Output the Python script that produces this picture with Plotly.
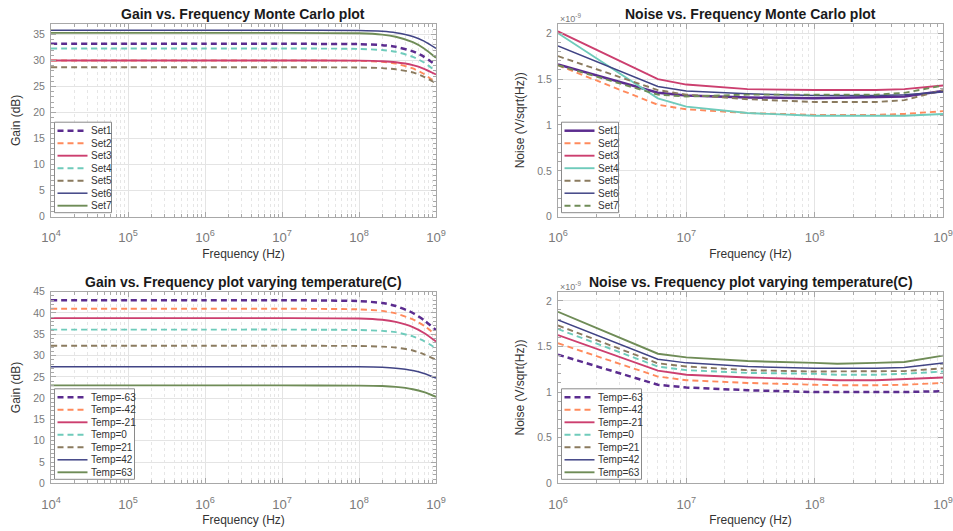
import plotly.graph_objects as go

# ---------------- data ----------------
set_names = ["Set1", "Set2", "Set3", "Set4", "Set5", "Set6", "Set7"]
temp_names = ["Temp=-63", "Temp=-42", "Temp=-21", "Temp=0", "Temp=21", "Temp=42", "Temp=63"]

# Gain vs frequency (Monte Carlo), dB
f_gain = [1e4, 1e5, 1e6, 1e7, 1e8, 2e8, 3e8, 5e8, 7e8, 1e9]
gain_set1 = [33.2, 33.2, 33.2, 33.2, 33.13, 32.94, 32.62, 31.75, 30.7, 29.1]
gain_set2 = [30.0, 30.0, 30.0, 30.0, 29.93, 29.72, 29.39, 28.46, 27.4, 25.7]
gain_set3 = [30.0, 30.0, 30.0, 30.0, 29.96, 29.85, 29.66, 29.1, 28.4, 27.3]
gain_set4 = [32.3, 32.3, 32.3, 32.3, 32.22, 32.0, 31.67, 30.7, 29.6, 27.9]
gain_set5 = [28.7, 28.7, 28.7, 28.7, 28.65, 28.53, 28.3, 27.7, 26.85, 25.6]
gain_set6 = [35.8, 35.8, 35.8, 35.8, 35.75, 35.59, 35.33, 34.6, 33.7, 32.3]
gain_set7 = [35.3, 35.3, 35.3, 35.3, 35.21, 34.96, 34.56, 33.5, 32.3, 30.5]

# Noise vs frequency (Monte Carlo), x1e-9 V/sqrt(Hz)
f_noise_mc = [1e6, 6e6, 1e7, 3e7, 1e8, 3e8, 5e8, 1e9]
noise_set1 = [1.66, 1.35, 1.32, 1.30, 1.29, 1.30, 1.31, 1.37]
noise_set2 = [1.65, 1.22, 1.17, 1.13, 1.11, 1.11, 1.12, 1.15]
noise_set3 = [2.02, 1.50, 1.44, 1.39, 1.38, 1.38, 1.39, 1.43]
noise_set4 = [2.00, 1.29, 1.20, 1.13, 1.10, 1.10, 1.10, 1.12]
noise_set5 = [1.75, 1.38, 1.33, 1.28, 1.25, 1.25, 1.27, 1.38]
noise_set6 = [1.86, 1.42, 1.37, 1.34, 1.32, 1.32, 1.33, 1.36]
noise_set7 = [1.65, 1.33, 1.31, 1.33, 1.33, 1.33, 1.35, 1.43]

# Gain vs frequency, varying temperature, dB
gain_tm63 = [43.0, 43.0, 43.0, 43.0, 42.8, 42.35, 41.65, 40.0, 38.3, 36.0]
gain_tm42 = [41.0, 41.0, 41.0, 41.0, 40.85, 40.5, 39.9, 38.5, 37.0, 34.8]
gain_tm21 = [38.8, 38.8, 38.8, 38.8, 38.7, 38.4, 37.9, 36.7, 35.3, 33.3]
gain_t0 = [36.1, 36.1, 36.1, 36.1, 36.0, 35.8, 35.5, 34.5, 33.4, 31.7]
gain_t21 = [32.3, 32.3, 32.3, 32.3, 32.25, 32.1, 31.9, 31.2, 30.3, 29.0]
gain_t42 = [27.4, 27.4, 27.4, 27.4, 27.35, 27.25, 27.05, 26.5, 25.8, 24.7]
gain_t63 = [23.0, 23.0, 23.0, 23.0, 22.95, 22.85, 22.65, 22.1, 21.4, 20.3]

# Noise vs frequency, varying temperature, x1e-9 V/sqrt(Hz)
f_noise_t = [1e6, 6e6, 1e7, 3e7, 1e8, 1.5e8, 3e8, 5e8, 1e9]
noise_tm63 = [1.41, 1.08, 1.05, 1.02, 1.00, 1.00, 1.00, 1.00, 1.01]
noise_tm42 = [1.535, 1.17, 1.13, 1.10, 1.08, 1.075, 1.075, 1.08, 1.10]
noise_tm21 = [1.625, 1.235, 1.19, 1.16, 1.14, 1.13, 1.13, 1.14, 1.16]
noise_t0 = [1.69, 1.28, 1.24, 1.21, 1.20, 1.19, 1.19, 1.20, 1.225]
noise_t21 = [1.73, 1.315, 1.28, 1.24, 1.225, 1.225, 1.225, 1.23, 1.26]
noise_t42 = [1.79, 1.36, 1.32, 1.28, 1.26, 1.26, 1.26, 1.27, 1.32]
noise_t63 = [1.88, 1.42, 1.38, 1.34, 1.32, 1.31, 1.32, 1.33, 1.40]

# ---------------- styles ----------------
colors = ["#5b2c8f", "#ff8a5c", "#cc3f6f", "#6fcbbb", "#8b7b5f", "#414485", "#6f8c57"]
widths = [2.5, 1.9, 1.9, 1.9, 1.9, 1.5, 1.9]
DASH = "6px,4px"
dash_gain_mc = [DASH, DASH, "solid", DASH, DASH, "solid", "solid"]
dash_noise_mc = ["solid", DASH, "solid", "solid", DASH, "solid", DASH]
dash_temp = [DASH, DASH, "solid", DASH, DASH, "solid", "solid"]

W, H = 953, 531
FONT = "Liberation Sans, Arial, sans-serif"
TICKC = "#7a7a7a"
LINEC = "#a8a8a8"


def px_x(p):
    return p / W


def px_y(p):
    return 1 - p / H


# panel boxes in page pixels (left, right, top, bottom)
panels = [
    (51, 436, 24, 216.7),
    (558, 943, 24, 216.7),
    (51, 436, 291.7, 483.3),
    (558, 943, 291.7, 483.3),
]

fig = go.Figure()

panel_series = [
    (f_gain, [gain_set1, gain_set2, gain_set3, gain_set4, gain_set5, gain_set6, gain_set7], set_names, dash_gain_mc, "spline"),
    (f_noise_mc, [noise_set1, noise_set2, noise_set3, noise_set4, noise_set5, noise_set6, noise_set7], set_names, dash_noise_mc, "linear"),
    (f_gain, [gain_tm63, gain_tm42, gain_tm21, gain_t0, gain_t21, gain_t42, gain_t63], temp_names, dash_temp, "spline"),
    (f_noise_t, [noise_tm63, noise_tm42, noise_tm21, noise_t0, noise_t21, noise_t42, noise_t63], temp_names, dash_temp, "linear"),
]

for pi, (fx, ys, names, dashes, shape) in enumerate(panel_series):
    ax = "" if pi == 0 else str(pi + 1)
    for i, (y, nm) in enumerate(zip(ys, names)):
        fig.add_trace(go.Scatter(
            x=fx, y=y, name=nm, mode="lines", showlegend=False,
            line=dict(color=colors[i], width=widths[i], dash=dashes[i], shape=shape, smoothing=0.6),
            xaxis="x" + ax, yaxis="y" + ax,
        ))

titles = [
    "Gain vs. Frequency Monte Carlo plot",
    "Noise vs. Frequency Monte Carlo plot",
    "Gain vs. Frequency plot varying temperature(C)",
    "Noise vs. Frequency plot varying temperature(C)",
]
ylabels = ["Gain (dB)", "Noise (V/sqrt(Hz))", "Gain (dB)", "Noise (V/sqrt(Hz))"]
yranges = [[0, 37], [0, 2.1], [0, 45], [0, 2.1]]
ydticks = [5, 0.5, 5, 0.5]
yminor = [1, 0.1, 1, 0.1]
xranges = [[4, 9], [6, 9], [4, 9], [6, 9]]

layout = dict(
    width=W, height=H, margin=dict(l=0, r=0, t=0, b=0),
    paper_bgcolor="white", plot_bgcolor="white",
    font=dict(family=FONT, size=10, color=TICKC),
    showlegend=False,
)
annotations = []
shapes = []

for pi, (l, r, t, b) in enumerate(panels):
    ax = "" if pi == 0 else str(pi + 1)
    layout["xaxis" + ax] = dict(
        type="log", range=xranges[pi], domain=[px_x(l), px_x(r)],
        anchor="y" + ax, dtick=1, exponentformat="power",
        showline=True, mirror="ticks", linecolor=LINEC, linewidth=1,
        ticks="inside", ticklen=5, tickcolor=LINEC,
        showgrid=True, gridcolor="#e4e4e4", gridwidth=1,
        minor=dict(ticks="inside", ticklen=3, tickcolor=LINEC, showgrid=True,
                   gridcolor="#e6e6e6", griddash="dot", dtick="D1"),
        tickfont=dict(size=10.5, color=TICKC), ticklabelstandoff=9,
        title=dict(text="Frequency (Hz)", font=dict(size=12, color="#333333"), standoff=5),
        automargin=False, zeroline=False,
    )
    layout["yaxis" + ax] = dict(
        range=yranges[pi], domain=[px_y(b), px_y(t)], anchor="x" + ax,
        dtick=ydticks[pi], tick0=0,
        showline=True, mirror="ticks", linecolor=LINEC, linewidth=1,
        ticks="inside", ticklen=5, tickcolor=LINEC,
        showgrid=True, gridcolor="#e4e4e4", gridwidth=1,
        minor=dict(ticks="inside", ticklen=3, tickcolor=LINEC, dtick=yminor[pi], showgrid=False),
        tickfont=dict(size=10.5, color=TICKC), ticklabelstandoff=3,
        title=dict(text=ylabels[pi], font=dict(size=12, color="#333333"), standoff=10),
        automargin=False, zeroline=False,
    )
    # panel title
    annotations.append(dict(
        text="<b>" + titles[pi] + "</b>", xref="paper", yref="paper",
        x=px_x((l + r) / 2), y=px_y(t - 10), xanchor="center", yanchor="middle",
        showarrow=False, font=dict(size=14, color="#1a1a1a", family=FONT),
    ))
    # exponent label for noise panels
    if pi in (1, 3):
        annotations.append(dict(
            text="\u00d710<sup>-9</sup>", xref="paper", yref="paper",
            x=px_x(l), y=px_y(t - 6), xanchor="left", yanchor="middle",
            showarrow=False, font=dict(size=9, color=TICKC, family=FONT),
        ))

    # legend box (inside lower-left of the axes)
    fx, ys, names, dashes, shape = panel_series[pi]
    box_w = 57 if pi in (0, 1) else 80
    lx0, lx1 = l + 3.5, l + 3.5 + box_w
    ly1 = b - 4
    step = 12.5
    ly0 = ly1 - step * len(names) - 3
    shapes.append(dict(type="rect", xref="paper", yref="paper",
                       x0=px_x(lx0), x1=px_x(lx1), y0=px_y(ly1), y1=px_y(ly0),
                       line=dict(color="#8a8a8a", width=1), fillcolor="white", layer="above"))
    for i, nm in enumerate(names):
        yy = ly0 + 8.5 + i * step
        shapes.append(dict(type="line", xref="paper", yref="paper",
                           x0=px_x(lx0 + 3), x1=px_x(lx0 + 33), y0=px_y(yy), y1=px_y(yy),
                           line=dict(color=colors[i], width=widths[i], dash=dashes[i]), layer="above"))
        annotations.append(dict(
            text=nm, xref="paper", yref="paper", x=px_x(lx0 + 34), y=px_y(yy),
            xanchor="left", yanchor="middle", showarrow=False,
            font=dict(size=10, color="#333333", family=FONT),
        ))

layout["annotations"] = annotations
layout["shapes"] = shapes
fig.update_layout(**layout)

fig.write_html(
    "out.html",
    config={"displayModeBar": False},
    post_script="document.body.style.margin='0';document.body.style.padding='0';",
)
